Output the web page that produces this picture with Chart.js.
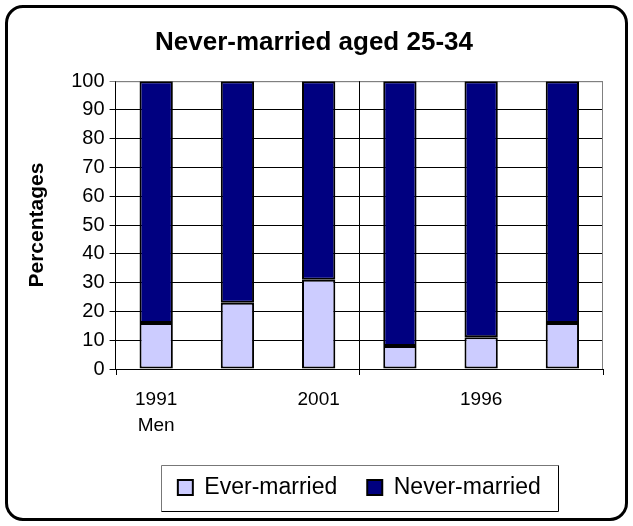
<!DOCTYPE html>
<html>
<head>
<meta charset="utf-8">
<script src="https://cdn.jsdelivr.net/npm/chart.js@4/dist/chart.umd.min.js"></script>
<style>
  html, body { margin: 0; padding: 0; background: #fff; }
  #frame {
    position: absolute; left: 5px; top: 5px;
    width: 617px; height: 510px;
    border: 3px solid #000; border-radius: 18px;
    overflow: hidden; background: #fff;
  }
</style>
</head>
<body>
<div id="frame"><canvas id="marriage" width="617" height="510"></canvas></div>
<script>
// data
const years = ['1991', '1996', '2001', '1991', '1996', '2001'];
const groups = ['Men', 'Women'];
const everMarried = [16, 23, 31, 8, 11, 16];
const neverMarried = [84, 77, 69, 92, 89, 84];
const yTicks = [0, 10, 20, 30, 40, 50, 60, 70, 80, 90, 100];

const FONT = 'Arial, "Liberation Sans", sans-serif';

// plot frame, group separator and the legend box
const excelBits = {
  id: 'excelBits',
  beforeDatasetsDraw(chart) {
    const { ctx, chartArea: a, scales: { x } } = chart;
    ctx.save();
    ctx.strokeStyle = '#808080';
    ctx.lineWidth = 1;
    ctx.beginPath();
    ctx.moveTo(a.left, a.top + 0.5);
    ctx.lineTo(a.right - 0.5, a.top + 0.5);
    ctx.lineTo(a.right - 0.5, a.bottom);
    ctx.stroke();
    // separator between Men and Women, plus the group ticks
    const half = years.length / 2;
    const edges = [0, half, years.length].map(i =>
      Math.round(x.getPixelForValue(i - 0.5)) + 0.5);
    ctx.strokeStyle = '#000';
    edges.forEach((px, k) => {
      ctx.beginPath();
      ctx.moveTo(px, k === 1 ? a.top : a.bottom);
      ctx.lineTo(px, a.bottom + 6);
      ctx.stroke();
    });
    ctx.restore();
  },
  afterDraw(chart) {
    const { ctx, chartArea: a } = chart;
    const hb = chart.legend.legendHitBoxes;
    if (!hb || !hb.length) return;
    const w = 397, h = 46;
    const cx = (a.left + a.right) / 2;
    const cy = hb[0].top + hb[0].height / 2;
    const l = Math.round(cx - w / 2) + 0.5, t = Math.round(cy - h / 2) + 0.5;
    ctx.save();
    ctx.lineWidth = 1;
    ctx.strokeStyle = '#777';
    ctx.beginPath();
    ctx.moveTo(l, t + h); ctx.lineTo(l, t); ctx.lineTo(l + w, t);
    ctx.stroke();
    ctx.strokeStyle = '#000';
    ctx.beginPath();
    ctx.moveTo(l + w, t); ctx.lineTo(l + w, t + h); ctx.lineTo(l, t + h);
    ctx.stroke();
    ctx.restore();
  }
};

const barStyle = {
  borderColor: '#000',
  borderWidth: 2,
  borderSkipped: false,
  categoryPercentage: 1,
  barPercentage: 0.41
};

new Chart(document.getElementById('marriage'), {
  type: 'bar',
  data: {
    labels: years,
    datasets: [
      { label: 'Ever-married', data: everMarried, backgroundColor: '#CCCCFF', ...barStyle },
      { label: 'Never-married', data: neverMarried, backgroundColor: '#000080', ...barStyle }
    ]
  },
  options: {
    responsive: false,
    animation: false,
    layout: { padding: { left: 17, right: 22, top: 0, bottom: 9 } },
    scales: {
      x: {
        stacked: true,
        grid: { display: false },
        border: { color: '#000', width: 1 },
        afterFit: s => { s.height = 77; },
        ticks: {
          color: '#000',
          font: { family: FONT, size: 19, lineHeight: 1.37 },
          maxRotation: 0,
          autoSkip: false,
          padding: 10,
          callback: (v, i) => {
            if (i % 2) return '';
            return i === 0 ? [years[i], groups[0]] : years[i];
          }
        }
      },
      y: {
        stacked: true,
        min: 0,
        max: 100,
        afterBuildTicks: s => { s.ticks = yTicks.map(v => ({ value: v })); },
        grid: {
          color: c => (c.tick && c.tick.value === 100 ? '#808080' : '#000'),
          lineWidth: 1,
          tickLength: 6
        },
        border: { color: '#000', width: 1 },
        ticks: {
          color: '#000',
          font: { family: FONT, size: 20 },
          padding: 5
        },
        title: {
          display: true,
          text: 'Percentages',
          color: '#000',
          font: { family: FONT, size: 21, weight: 'bold' },
          padding: { top: 0, bottom: 16 }
        }
      }
    },
    plugins: {
      title: {
        display: true,
        text: 'Never-married aged 25-34',
        color: '#000',
        font: { family: FONT, size: 26, weight: 'bold' },
        padding: { top: 19, bottom: 23 }
      },
      legend: {
        position: 'bottom',
        fullSize: false,
        labels: {
          color: '#000',
          font: { family: FONT, size: 23 },
          boxWidth: 15,
          boxHeight: 15,
          padding: 30,
          generateLabels: chart => chart.data.datasets.map((d, i) => ({
            text: d.label,
            fillStyle: d.backgroundColor,
            strokeStyle: '#000',
            lineWidth: 2,
            datasetIndex: i
          }))
        }
      },
      tooltip: { enabled: false }
    }
  },
  plugins: [excelBits]
});
</script>
</body>
</html>
